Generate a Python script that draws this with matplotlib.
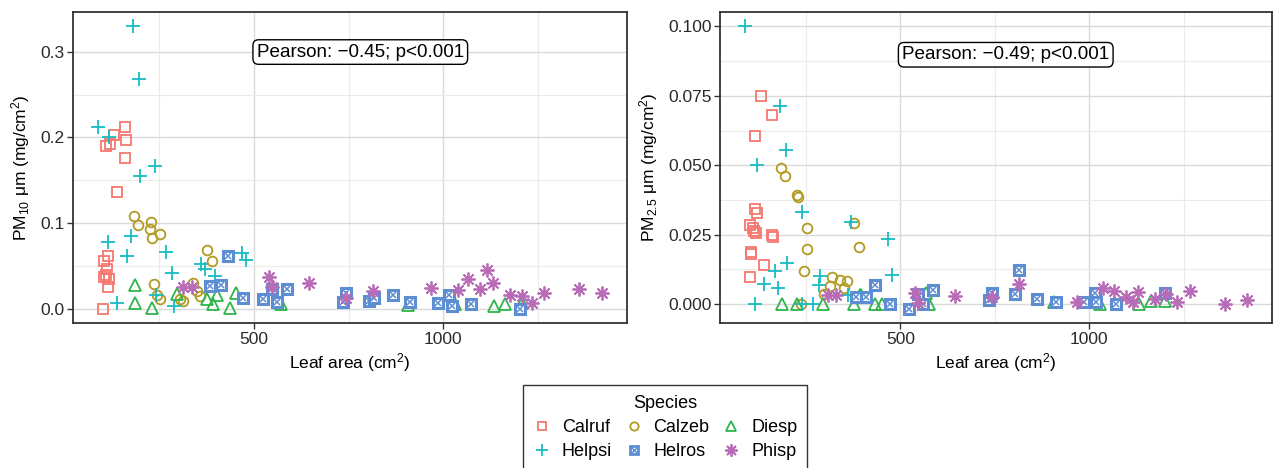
import matplotlib
matplotlib.use("Agg")
import matplotlib.pyplot as plt
from matplotlib.lines import Line2D
from matplotlib.ticker import MultipleLocator

plt.rcParams['font.family'] = ['Liberation Sans', 'DejaVu Sans']
plt.rcParams['mathtext.fontset'] = 'custom'
plt.rcParams['mathtext.rm'] = 'Liberation Sans'
plt.rcParams['mathtext.it'] = 'Liberation Sans'
plt.rcParams['mathtext.default'] = 'regular'

species = ["Calruf", "Calzeb", "Diesp", "Helpsi", "Helros", "Phisp"]
colors = ["#F5776F", "#B39B22", "#2DB54A", "#16BCC2", "#5D8DD3", "#B86BB6"]

# ---- PM10 panel data (leaf area, PM10) ----
calruf_leaf10 = [159, 161, 131, 109, 120, 159, 139, 115, 105, 112, 109, 118, 105, 115, 102]
calruf_pm10 = [0.2116, 0.197, 0.203, 0.190, 0.192, 0.176, 0.136, 0.062, 0.056, 0.047, 0.040, 0.035, 0.038, 0.026, 0.000]
calzeb_leaf10 = [183, 194, 227, 225, 230, 252, 375, 390, 237, 245, 252, 313, 304, 338, 349, 357]
calzeb_pm10 = [0.109, 0.098, 0.101, 0.093, 0.083, 0.087, 0.069, 0.056, 0.0295, 0.017, 0.012, 0.0093, 0.012, 0.0307, 0.021, 0.015]
diesp_leaf10 = [186, 186, 230, 296, 375, 401, 391, 452, 437, 570, 907, 1030, 1134, 1163, 1207]
diesp_pm10 = [0.0287, 0.0066, 0.0016, 0.018, 0.012, 0.017, 0.0055, 0.019, 0.0016, 0.0055, 0.0045, 0.006, 0.004, 0.0055, 0.007]
helpsi_leaf10 = [181, 197, 89, 118, 238, 199, 115, 175, 164, 268, 284, 139, 241, 289, 359, 371, 397, 467, 479]
helpsi_pm10 = [0.330, 0.268, 0.212, 0.200, 0.167, 0.155, 0.078, 0.085, 0.062, 0.067, 0.042, 0.0074, 0.017, 0.004, 0.053, 0.047, 0.039, 0.065, 0.057]
helros_leaf10 = [432, 384, 412, 472, 523, 547, 586, 561, 743, 736, 804, 817, 866, 912, 987, 1016, 1022, 1073, 1202]
helros_pm10 = [0.0624, 0.0267, 0.0276, 0.0124, 0.0113, 0.023, 0.0237, 0.0081, 0.019, 0.0081, 0.0093, 0.0124, 0.017, 0.0081, 0.0074, 0.017, 0.0035, 0.0055, 0.0005]
phisp_leaf10 = [313, 335, 540, 547, 646, 743, 815, 967, 1039, 1066, 1097, 1116, 1130, 1175, 1207, 1233, 1266, 1359, 1418]
phisp_pm10 = [0.026, 0.026, 0.0377, 0.026, 0.0307, 0.0133, 0.021, 0.0245, 0.0225, 0.0355, 0.0229, 0.0453, 0.0299, 0.0165, 0.0155, 0.0066, 0.019, 0.0229, 0.019]

# ---- PM2.5 panel data (leaf area, PM2.5) ----
calruf_leaf25 = [131, 161, 115, 115, 120, 102, 111, 112, 118, 161, 162, 104, 106, 140, 102]
calruf_pm25 = [0.075, 0.068, 0.0606, 0.0341, 0.0329, 0.0285, 0.0273, 0.0264, 0.0255, 0.0249, 0.0243, 0.0189, 0.0180, 0.0141, 0.0096]
calzeb_leaf25 = [183, 194, 227, 229, 252, 252, 245, 377, 391, 318, 340, 360, 313, 351, 297, 238]
calzeb_pm25 = [0.0489, 0.0463, 0.0393, 0.0387, 0.0275, 0.0197, 0.0120, 0.0293, 0.0204, 0.0096, 0.0087, 0.0083, 0.0065, 0.0057, 0.0036, 0.000]
diesp_leaf25 = [186, 227, 296, 378, 392, 397, 434, 452, 567, 577, 907, 1028, 1132, 1163, 1202]
diesp_pm25 = [0.0, 0.0, 0.0, 0.0002, 0.0033, 0.0032, 0.0, 0.0, 0.0039, 0.0, 0.0008, 0.0, 0.0, 0.0012, 0.0012]
helpsi_leaf25 = [89, 181, 197, 120, 240, 370, 467, 479, 168, 200, 139, 177, 115, 287, 285, 241, 269, 362]
helpsi_pm25 = [0.100, 0.0714, 0.0555, 0.0501, 0.0333, 0.0297, 0.0233, 0.0105, 0.0120, 0.0149, 0.0072, 0.0057, 0.000, 0.0101, 0.0069, 0.000, 0.000, 0.0033]
helros_leaf25 = [432, 384, 410, 474, 523, 586, 546, 561, 743, 736, 815, 804, 863, 912, 987, 1016, 1019, 1072, 1202]
helros_pm25 = [0.0069, 0.0026, 0.0024, 0.000, -0.0019, 0.0050, 0.0036, 0.000, 0.0041, 0.0014, 0.0123, 0.0036, 0.0020, 0.0008, 0.0008, 0.0039, 0.0008, 0.000, 0.0041]
phisp_leaf25 = [309, 331, 540, 546, 646, 743, 813, 969, 1037, 1066, 1097, 1116, 1130, 1174, 1204, 1233, 1266, 1359, 1418]
phisp_pm25 = [0.0033, 0.0033, 0.0039, 0.0005, 0.0029, 0.0026, 0.0072, 0.0008, 0.0057, 0.0047, 0.0026, 0.0008, 0.0044, 0.0017, 0.0036, 0.0008, 0.0048, 0.000, 0.0014]

pm10_label = "Pearson: \u22120.45; p<0.001"
pm25_label = "Pearson: \u22120.49; p<0.001"

panel10 = [(calruf_leaf10, calruf_pm10), (calzeb_leaf10, calzeb_pm10), (diesp_leaf10, diesp_pm10),
           (helpsi_leaf10, helpsi_pm10), (helros_leaf10, helros_pm10), (phisp_leaf10, phisp_pm10)]
panel25 = [(calruf_leaf25, calruf_pm25), (calzeb_leaf25, calzeb_pm25), (diesp_leaf25, diesp_pm25),
           (helpsi_leaf25, helpsi_pm25), (helros_leaf25, helros_pm25), (phisp_leaf25, phisp_pm25)]

W, H = 1274, 468
fig = plt.figure(figsize=(W / 100, H / 100), dpi=100)
ax1 = fig.add_axes([73.3 / W, 1 - 323.3 / H, 553.4 / W, 311.6 / H])
ax2 = fig.add_axes([720.0 / W, 1 - 323.3 / H, 552.0 / W, 311.6 / H])

MW = 1.3


def draw_species(ax, idx, x, y):
    c = colors[idx]
    name = species[idx]
    if name == "Calruf":
        kw = dict(marker='s', ms=7, mfc='none', mec=c, mew=MW)
    elif name == "Calzeb":
        kw = dict(marker='o', ms=7, mfc='none', mec=c, mew=MW)
    elif name == "Diesp":
        kw = dict(marker='^', ms=8.5, mfc='none', mec=c, mew=MW)
    elif name == "Helpsi":
        kw = dict(marker='+', ms=10, mec=c, mew=MW)
    elif name == "Helros":
        kw = dict(marker='s', ms=7.0, mfc='white', mec=c, mew=2.2)
    else:
        kw = dict(marker=(8, 2, 0), ms=10, mec=c, mew=MW)
    ax.plot(x, y, ls='none', zorder=3, **kw)
    if name == "Helros":
        ax.plot(x, y, ls='none', marker='x', ms=4.8, mec=c, mew=1.1, zorder=3)


for ax, data in ((ax1, panel10), (ax2, panel25)):
    for i, (x, y) in enumerate(data):
        draw_species(ax, i, x, y)

# axes styling
xlim = (22.7, 1484)
ax1.set_xlim(*xlim)
ax2.set_xlim(*xlim)
ax1.set_ylim(-0.0165, 0.3465)
ax2.set_ylim(-0.0069, 0.1053)

ax1.yaxis.set_major_locator(MultipleLocator(0.1))
ax1.yaxis.set_minor_locator(MultipleLocator(0.05))
ax2.yaxis.set_major_locator(MultipleLocator(0.025))
ax2.yaxis.set_minor_locator(MultipleLocator(0.0125))
for ax in (ax1, ax2):
    ax.xaxis.set_major_locator(MultipleLocator(500))
    ax.xaxis.set_minor_locator(MultipleLocator(250))
    ax.grid(True, which='major', color='#DADADA', lw=1.0, zorder=0)
    ax.grid(True, which='minor', color='#EBEBEB', lw=0.8, zorder=0)
    ax.set_axisbelow(True)
    for s in ax.spines.values():
        s.set_color('#333333')
        s.set_linewidth(1.3)
    ax.tick_params(which='major', direction='out', length=4, width=1.0, color='#333333',
                   labelsize=12.5, labelcolor='#2A2A2A', pad=2)
    ax.tick_params(which='minor', length=0)
    ax.set_xlabel("Leaf area (cm$^{2}$)", fontsize=12.5, labelpad=3)

ax1.yaxis.set_major_formatter(matplotlib.ticker.FuncFormatter(lambda v, p: f"{v:.1f}"))
ax2.yaxis.set_major_formatter(matplotlib.ticker.FuncFormatter(lambda v, p: f"{v:.3f}"))
ax1.set_ylabel("PM$_{10}$ \u03bcm (mg/cm$^{2}$)", fontsize=12.5, labelpad=6)
ax2.set_ylabel("PM$_{2.5}$ \u03bcm (mg/cm$^{2}$)", fontsize=12.5, labelpad=6)

box = dict(boxstyle='round,pad=0.2,rounding_size=0.3', fc='white', ec='black', lw=1.0)
ax1.text(507, 0.2995, pm10_label, ha='left', va='center', fontsize=13.6, bbox=box, zorder=5)
ax2.text(505, 0.0898, pm25_label, ha='left', va='center', fontsize=13.6, bbox=box, zorder=5)

# legend
handles = []
for i, name in enumerate(species):
    c = colors[i]
    if name == "Calruf":
        h = Line2D([], [], ls='none', marker='s', ms=6, mfc='none', mec=c, mew=MW)
    elif name == "Calzeb":
        h = Line2D([], [], ls='none', marker='o', ms=6, mfc='none', mec=c, mew=MW)
    elif name == "Diesp":
        h = Line2D([], [], ls='none', marker='^', ms=7.5, mfc='none', mec=c, mew=MW)
    elif name == "Helpsi":
        h = Line2D([], [], ls='none', marker='+', ms=9, mec=c, mew=MW)
    elif name == "Helros":
        h = (Line2D([], [], ls='none', marker='s', ms=6, mfc='white', mec=c, mew=2.0),
             Line2D([], [], ls='none', marker='x', ms=3.8, mec=c, mew=1.0))
    else:
        h = Line2D([], [], ls='none', marker=(8, 2, 0), ms=9, mec=c, mew=MW)
    handles.append(h)

order = [0, 3, 1, 4, 2, 5]
leg = fig.legend([handles[k] for k in order], [species[k] for k in order],
                 title="Species", ncol=3, loc='upper center',
                 bbox_to_anchor=(665 / W, 1 - 376 / H), fontsize=13, title_fontsize=13,
                 frameon=True, fancybox=False, edgecolor='black', handlelength=1.0,
                 handletextpad=0.6, columnspacing=0.7, borderpad=0.55, labelspacing=0.4)
leg.get_frame().set_linewidth(1.0)

fig.savefig("out.png", dpi=100)
